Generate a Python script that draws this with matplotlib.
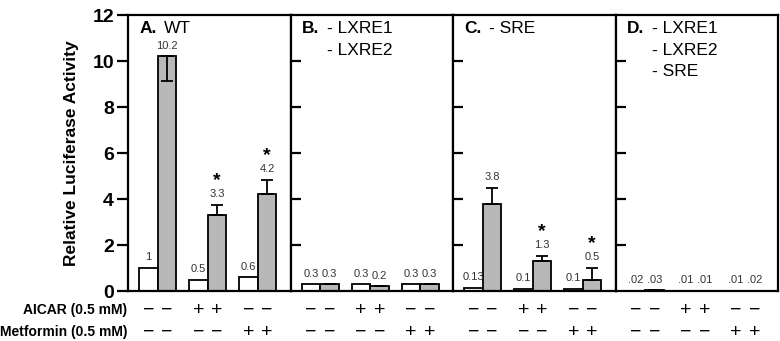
import matplotlib
matplotlib.use('Agg')
from matplotlib import pyplot as plt
from matplotlib import transforms

plt.rcParams['font.family'] = ['Liberation Sans', 'DejaVu Sans']

# panel names (bold part, rest split in lines)
panel_letters = ['A.', 'B.', 'C.', 'D.']
panel_lines = [['WT'], ['- LXRE1', '- LXRE2'], ['- SRE'], ['- LXRE1', '- LXRE2', '- SRE']]

# values per panel: control (white) and treated (gray) for 3 conditions
white_vals = [[1, 0.5, 0.6], [0.3, 0.3, 0.3], [0.13, 0.1, 0.1], [0.02, 0.01, 0.01]]
gray_vals = [[10.2, 3.3, 4.2], [0.3, 0.2, 0.3], [3.8, 1.3, 0.5], [0.03, 0.01, 0.02]]
gray_err_low = [[1.05, 0, 0], [0, 0, 0], [0, 0, 0], [0, 0, 0]]
gray_err_up = [[0, 0.45, 0.63], [0, 0, 0], [0.68, 0.22, 0.5], [0, 0, 0]]
white_labels = [['1', '0.5', '0.6'], ['0.3', '0.3', '0.3'], ['0.13', '0.1', '0.1'], ['.02', '.01', '.01']]
gray_labels = [['10.2', '3.3', '4.2'], ['0.3', '0.2', '0.3'], ['3.8', '1.3', '0.5'], ['.03', '.01', '.02']]
stars = [[False, True, True], [False, False, False], [False, True, True], [False, False, False]]

aicar_signs = ['−', '+', '−']
metformin_signs = ['−', '−', '+']
yticks = [0, 2, 4, 6, 8, 10, 12]

W, H = 780, 341
fig = plt.figure(figsize=(W / 100, H / 100), dpi=100)

left_px, right_px, top_px, bottom_px = 128, 778, 15, 291
panel_w = (right_px - left_px) / 4
gray_col = '#b8b8b8'

bar_w = 1.0
unit_px = 18.7
xmax = panel_w / unit_px
first = 0.59 + 0.5
stride = 50 / unit_px

for p in range(4):
    ax = fig.add_axes([(left_px + p * panel_w) / W, 1 - bottom_px / H,
                       panel_w / W, (bottom_px - top_px) / H])
    xs_w = [first + stride * i for i in range(3)]
    xs_g = [x + bar_w for x in xs_w]
    ax.bar(xs_w, white_vals[p], width=bar_w, color='white', edgecolor='black', linewidth=1.3, zorder=2)
    ax.bar(xs_g, gray_vals[p], width=bar_w, color=gray_col, edgecolor='black', linewidth=1.3, zorder=2)
    ax.errorbar(xs_g, gray_vals[p], yerr=[gray_err_low[p], gray_err_up[p]], fmt='none',
                ecolor='black', elinewidth=1.3, capsize=4, capthick=1.3, zorder=3)
    ax.set_xlim(0, xmax)
    ax.set_ylim(0, 12)
    ax.set_xticks([])
    for s in ax.spines.values():
        s.set_linewidth(1.6)

    if p == 0:
        ax.set_yticks(yticks)
        ax.tick_params(axis='y', direction='out', length=8, width=1.6, labelsize=14, pad=2)
        for t in ax.get_yticklabels():
            t.set_fontweight('bold')
        ax.set_ylabel('Relative Luciferase Activity', fontsize=12.5, fontweight='bold', labelpad=10)
    else:
        ax.set_yticks(yticks[1:-1])
        ax.tick_params(axis='y', direction='in', length=7, width=1.6, labelleft=False)

    # value labels and stars
    for i in range(3):
        ax.annotate(white_labels[p][i], (xs_w[i], white_vals[p][i]), xytext=(0, 4),
                    textcoords='offset points', ha='center', va='bottom', fontsize=8, color='#333333')
        top = gray_vals[p][i] + gray_err_up[p][i]
        ax.annotate(gray_labels[p][i], (xs_g[i], top), xytext=(0, 4),
                    textcoords='offset points', ha='center', va='bottom', fontsize=8, color='#333333')
        if stars[p][i]:
            ax.annotate('*', (xs_g[i], top), xytext=(0, 11.5), textcoords='offset points',
                        ha='center', va='bottom', fontsize=14, fontweight='bold')

    # panel title
    ax.annotate(panel_letters[p], (0, 1), xycoords='axes fraction', xytext=(8, -13),
                textcoords='offset points', ha='left', va='baseline', fontsize=12.5, fontweight='bold')
    for j, line in enumerate(panel_lines[p]):
        ax.annotate(line, (0, 1), xycoords='axes fraction', xytext=(26, -13 - 15.6 * j),
                    textcoords='offset points', ha='left', va='baseline', fontsize=12.5)

    # treatment signs below bars
    trans = transforms.blended_transform_factory(ax.transData, ax.transAxes)
    for i in range(3):
        for x in (xs_w[i], xs_g[i]):
            ax.text(x, -0.069, aicar_signs[i], transform=trans, ha='center', va='center', fontsize=14)
            ax.text(x, -0.149, metformin_signs[i], transform=trans, ha='center', va='center', fontsize=14)

    if p == 0:
        ax.text(-0.005, -0.069, 'AICAR (0.5 mM)', transform=ax.transAxes, ha='right', va='center',
                fontsize=10, fontweight='bold')
        ax.text(-0.005, -0.149, 'Metformin (0.5 mM)', transform=ax.transAxes, ha='right', va='center',
                fontsize=10, fontweight='bold')

fig.savefig('out.png', dpi=100)
